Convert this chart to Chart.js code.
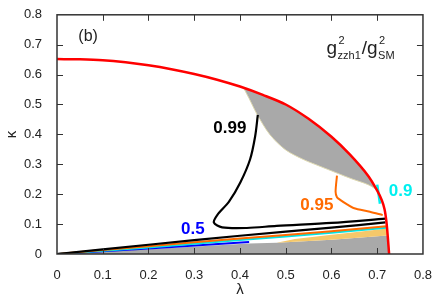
<!DOCTYPE html>
<html>
<head>
<meta charset="utf-8">
<script src="https://cdn.jsdelivr.net/npm/chart.js@4/dist/chart.umd.min.js"></script>
<style>
  html, body { margin: 0; padding: 0; background: #fff; }
  #wrap { width: 438px; height: 300px; }
</style>
</head>
<body>
<div id="wrap"><canvas id="chart" width="438" height="300"></canvas></div>
<script>
// axis
const xTicks = [0, 0.1, 0.2, 0.3, 0.4, 0.5, 0.6, 0.7, 0.8];
const yTicks = [0, 0.1, 0.2, 0.3, 0.4, 0.5, 0.6, 0.7, 0.8];

// boundary (red)
const redLambda = [0, 0.05, 0.1, 0.15, 0.2, 0.25, 0.3, 0.35, 0.4, 0.45, 0.5, 0.55, 0.6, 0.64, 0.68, 0.7, 0.71, 0.716, 0.72, 0.723, 0.726];
const redKappa  = [0.652, 0.651, 0.648, 0.641, 0.631, 0.618, 0.602, 0.583, 0.56, 0.532, 0.5, 0.452, 0.392, 0.333, 0.262, 0.212, 0.18, 0.15, 0.11, 0.06, 0];

// upper grey lens, lower edge
const lensLambda = [0.408, 0.42, 0.437, 0.465, 0.5, 0.54, 0.572, 0.61, 0.645, 0.68, 0.702];
const lensKappa  = [0.555, 0.52, 0.468, 0.40, 0.348, 0.315, 0.295, 0.272, 0.251, 0.232, 0.212];

// lower grey region, top edge
const floorLambda = [0, 0.2, 0.42, 0.48, 0.6, 0.722, 0.727];
const floorKappa  = [0, 0.016, 0.035, 0.038, 0.048, 0.062, 0];

// yellow wedge, top edge
const wedgeLambda = [0.48, 0.52, 0.6, 0.66, 0.722];
const wedgeKappa  = [0.038, 0.05, 0.064, 0.074, 0.085];

// contours
const c99Lambda = [0.439, 0.433, 0.422, 0.401, 0.376, 0.351, 0.343, 0.361, 0.415, 0.48, 0.6, 0.718];
const c99Kappa  = [0.465, 0.392, 0.316, 0.240, 0.175, 0.132, 0.105, 0.089, 0.087, 0.094, 0.104, 0.118];

const blackLambda = [0, 0.2, 0.4, 0.6, 0.718];
const blackKappa  = [0, 0.031, 0.061, 0.088, 0.106];

const orangeLambda = [0, 0.2, 0.4, 0.6, 0.72];
const orangeKappa  = [0, 0.026, 0.052, 0.076, 0.093];

const cyanLambda = [0, 0.2, 0.4, 0.6, 0.72];
const cyanKappa  = [0, 0.022, 0.047, 0.071, 0.088];

const blueLambda = [0, 0.2, 0.42];
const blueKappa  = [0, 0.018, 0.04];

const c95Lambda = [0.612, 0.609, 0.612, 0.619, 0.635, 0.648, 0.684, 0.712];
const c95Kappa  = [0.262, 0.208, 0.19, 0.181, 0.165, 0.154, 0.141, 0.13];

const c90Lambda = [0.700, 0.703, 0.706];
const c90Kappa  = [0.232, 0.2, 0.168];

// text labels: [text, lambda, kappa, colour]
const contourLabels = [
    ['0.99', 0.378, 0.419, '#000000'],
    ['0.95', 0.568, 0.164, '#ff6a00'],
    ['0.9', 0.751, 0.208, '#00f0f0'],
    ['0.5', 0.297, 0.084, '#0000ff']
];
const panelLabel = ['(b)', 0.068, 0.727];
const ratioAt = [0.589, 0.669];

const pts = (xs, ys) => xs.map((v, i) => ({ x: v, y: ys[i] }));
const GREY = '#a9a9a9';

function line(data, color, width, order) {
    return { data, borderColor: color, borderWidth: width, showLine: true, pointRadius: 0, fill: false, order, tension: 0.3 };
}

const frameTicks = {
    id: 'frameTicks',
    afterDatasetsDraw(chart) {
        const { ctx, chartArea: a, scales: { x, y } } = chart;
        ctx.save();
        ctx.strokeStyle = '#333';
        ctx.lineWidth = 1;
        const len = 6;
        ctx.beginPath();
        xTicks.slice(1, -1).forEach(v => {
            const px = Math.round(x.getPixelForValue(v)) + 0.5;
            ctx.moveTo(px, a.bottom); ctx.lineTo(px, a.bottom - len);
            ctx.moveTo(px, a.top); ctx.lineTo(px, a.top + len);
        });
        yTicks.slice(1, -1).forEach(v => {
            const py = Math.round(y.getPixelForValue(v)) + 0.5;
            ctx.moveTo(a.left, py); ctx.lineTo(a.left + len, py);
            ctx.moveTo(a.right, py); ctx.lineTo(a.right - len, py);
        });
        ctx.stroke();
        ctx.lineWidth = 1.5;
        ctx.strokeRect(a.left, a.top, a.right - a.left, a.bottom - a.top);
        ctx.restore();
    }
};

const textLabels = {
    id: 'textLabels',
    afterDraw(chart) {
        const { ctx, scales: { x, y } } = chart;
        ctx.save();
        ctx.textAlign = 'center';
        ctx.textBaseline = 'middle';
        ctx.font = 'bold 17px "Liberation Sans", Arial, sans-serif';
        contourLabels.forEach(([t, lx, ly, c]) => {
            ctx.fillStyle = c;
            ctx.fillText(t, x.getPixelForValue(lx), y.getPixelForValue(ly));
        });
        ctx.fillStyle = '#222';
        ctx.font = '16px "Liberation Sans", Arial, sans-serif';
        ctx.fillText(panelLabel[0], x.getPixelForValue(panelLabel[1]), y.getPixelForValue(panelLabel[2]));

        // g^2_zzh1 / g^2_SM
        ctx.textAlign = 'left';
        ctx.textBaseline = 'alphabetic';
        let px = x.getPixelForValue(ratioAt[0]);
        const base = y.getPixelForValue(ratioAt[1]);
        const big = '19px "Liberation Sans", Arial, sans-serif';
        const small = '11px "Liberation Sans", Arial, sans-serif';
        const term = (sub) => {
            ctx.font = big; ctx.fillText('g', px, base); px += ctx.measureText('g').width + 0.5;
            ctx.font = small;
            ctx.fillText('2', px + 1, base - 10);
            ctx.fillText(sub, px, base + 5);
            px += ctx.measureText(sub).width + 1;
        };
        term('zzh1');
        ctx.font = big; ctx.fillText('/', px, base); px += ctx.measureText('/').width;
        term('SM');
        ctx.restore();
    }
};

new Chart(document.getElementById('chart'), {
    type: 'scatter',
    data: {
        datasets: [
            { data: pts(floorLambda, floorKappa), showLine: true, pointRadius: 0, borderWidth: 0, borderColor: GREY, backgroundColor: GREY, fill: 'origin', order: 20 },
            { data: pts(wedgeLambda, wedgeKappa), showLine: true, pointRadius: 0, borderWidth: 0, borderColor: '#f3c463', backgroundColor: '#f5c86a', fill: { target: 0 }, order: 19 },
            { data: pts(lensLambda, lensKappa), showLine: true, pointRadius: 0, borderWidth: 1, borderColor: '#ddd8b0', backgroundColor: GREY, fill: { target: 10 }, order: 18, tension: 0.3 },
            line(pts(blueLambda, blueKappa), '#0000ff', 2, 9),
            line(pts(cyanLambda, cyanKappa), '#00e5e5', 2, 8),
            line(pts(orangeLambda, orangeKappa), '#ff6a00', 2, 7),
            line(pts(blackLambda, blackKappa), '#000000', 2.2, 6),
            line(pts(c99Lambda, c99Kappa), '#000000', 2.2, 5),
            line(pts(c95Lambda, c95Kappa), '#ff6a00', 2, 4),
            line(pts(c90Lambda, c90Kappa), '#00f0f0', 2.5, 3),
            line(pts(redLambda, redKappa), '#ff0000', 2.5, 1)
        ]
    },
    options: {
        responsive: false,
        animation: false,
        layout: { padding: { top: 7, right: 9, left: 0, bottom: 0 } },
        plugins: { legend: { display: false }, tooltip: { enabled: false } },
        scales: {
            x: {
                type: 'linear', min: 0, max: 0.8,
                afterFit: s => { s.height = 46; },
                afterBuildTicks: s => { s.ticks = xTicks.map(v => ({ value: v })); },
                grid: { display: false },
                border: { display: false },
                ticks: { padding: 6, color: '#222', font: { family: '"Liberation Sans", Arial, sans-serif', size: 13 } },
                title: { display: true, text: 'λ', color: '#222', padding: { top: 0, bottom: 1 }, font: { family: '"Liberation Sans", Arial, sans-serif', size: 15 } }
            },
            y: {
                type: 'linear', min: 0, max: 0.8,
                afterFit: s => { s.width = 57; },
                afterBuildTicks: s => { s.ticks = yTicks.map(v => ({ value: v })); },
                grid: { display: false },
                border: { display: false },
                ticks: { padding: 7, color: '#222', font: { family: '"Liberation Sans", Arial, sans-serif', size: 13 } },
                title: { display: true, text: 'κ', color: '#222', padding: { top: 3, bottom: 0 }, font: { family: '"Liberation Sans", Arial, sans-serif', size: 15 } }
            }
        }
    },
    plugins: [frameTicks, textLabels]
});
</script>
</body>
</html>
